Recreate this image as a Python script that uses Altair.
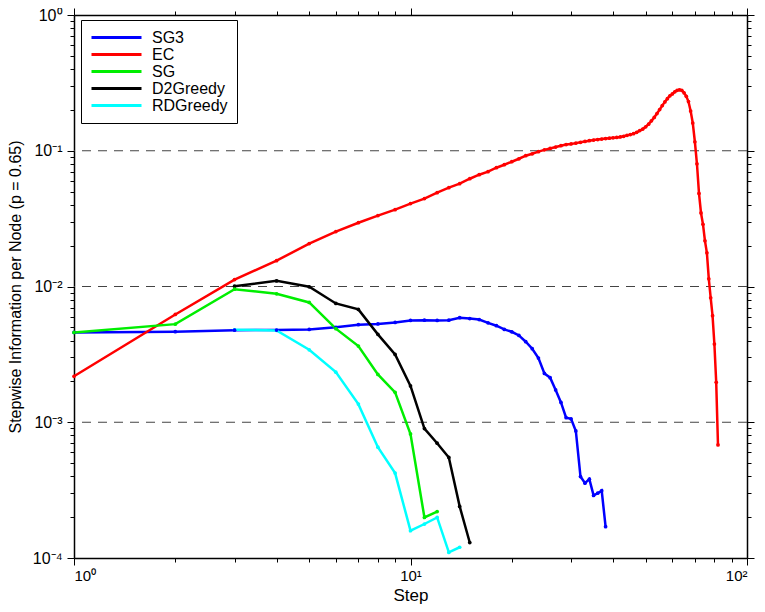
import altair as alt
import pandas as pd

series_names = ["SG3", "EC", "SG", "D2Greedy", "RDGreedy"]
series_colors = ["#0000ff", "#ff0000", "#00ee00", "#000000", "#00ffff"]

sg3_steps = list(range(1, 39))
sg3_values = [0.00459, 0.00465, 0.00477, 0.00478, 0.00483, 0.0050, 0.00523, 0.0053,
              0.00544, 0.00562, 0.00565, 0.00562, 0.00565, 0.00589, 0.0058, 0.00571,
              0.0054, 0.00514, 0.00483, 0.00464, 0.00436, 0.00392, 0.00348, 0.00297,
              0.00229, 0.00213, 0.00173, 0.0014, 0.00108, 0.00106, 0.000863, 0.000398,
              0.000356, 0.000381, 0.000289, 0.0003, 0.000313, 0.00017]

ec_steps = list(range(1, 83))
ec_values = [0.00218, 0.00622, 0.01125, 0.0155, 0.0207, 0.0254, 0.0295, 0.0333, 0.0368, 0.0408,
             0.0444, 0.0491, 0.0535, 0.0572, 0.0622, 0.0666, 0.0701, 0.075, 0.0789, 0.083,
             0.0873, 0.0919, 0.095, 0.0985, 0.1015, 0.104, 0.1065, 0.109, 0.111, 0.1122,
             0.1138, 0.1155, 0.117, 0.1185, 0.1198, 0.121, 0.122, 0.123, 0.1237, 0.1245,
             0.1253, 0.1263, 0.1278, 0.1298, 0.1315, 0.1337, 0.1367, 0.1408, 0.1444, 0.15,
             0.157, 0.166, 0.176, 0.188, 0.201, 0.215, 0.229, 0.242, 0.254, 0.262,
             0.2715, 0.2786, 0.281, 0.2786, 0.267, 0.252, 0.2305, 0.196, 0.16, 0.1165,
             0.0802, 0.0485, 0.0348, 0.0287, 0.0217, 0.0177, 0.0114, 0.00826, 0.00609, 0.00377,
             0.00197, 0.00068]

sg_steps = list(range(1, 13))
sg_values = [0.00459, 0.00528, 0.00955, 0.00884, 0.00763, 0.00489, 0.00364, 0.00225,
             0.00166, 0.00082, 0.000199, 0.00022]

d2_steps = list(range(3, 16))
d2_values = [0.01005, 0.011, 0.00995, 0.0075, 0.00678, 0.00444, 0.00316, 0.00185,
             0.000898, 0.000701, 0.00055, 0.00024, 0.00013]

rd_steps = list(range(3, 15))
rd_values = [0.0048, 0.00475, 0.00342, 0.00234, 0.00136, 0.000655, 0.000422, 0.000159,
             0.000178, 0.000199, 0.00011, 0.00012]

grid_values = [0.1, 0.01, 0.001]

rows = []
for name, steps, vals in [("SG3", sg3_steps, sg3_values), ("EC", ec_steps, ec_values),
                          ("SG", sg_steps, sg_values), ("D2Greedy", d2_steps, d2_values),
                          ("RDGreedy", rd_steps, rd_values)]:
    for i, (s, v) in enumerate(zip(steps, vals)):
        rows.append({"step": s, "value": v, "series": name, "order": i})
df = pd.DataFrame(rows)
grid_df = pd.DataFrame({"g": grid_values})

FONT = "Liberation Sans"
xscale = alt.Scale(type="log", domain=[1, 100], nice=False)
yscale = alt.Scale(type="log", domain=[0.0001, 1], nice=False)

E = "round(log(datum.value)/LN10)"
is_decade = f"abs(log(datum.value)/LN10 - {E}) < 0.001"
sup = (f"{E}==0?'⁰':{E}==1?'¹':{E}==2?'²':{E}==-1?'⁻¹':{E}==-2?'⁻²':"
       f"{E}==-3?'⁻³':{E}==-4?'⁻⁴':''")
label_expr = f"{is_decade} ? '10' + ({sup}) : ''"
tick_size = {"condition": {"test": is_decade, "value": 7}, "value": 4}

common_axis = dict(
    domainColor="black", domainWidth=1.5, tickColor="black", tickWidth=1,
    tickSize=tick_size, labelOverlap=False, grid=False, labelFont=FONT,
    labelColor="black", titleFont=FONT, titleColor="black", titleFontWeight="normal",
)

lines = alt.Chart(df).mark_line(
    strokeWidth=2.5,
    point=alt.OverlayMarkDef(filled=True, size=14),
).encode(
    x=alt.X("step:Q", scale=xscale,
            axis=alt.Axis(orient="bottom", title="Step", labelExpr=label_expr,
                          labelFontSize=15, titleFontSize=17, labelPadding=3,
                          titleY=42, titleBaseline="alphabetic", **common_axis)),
    y=alt.Y("value:Q", scale=yscale,
            axis=alt.Axis(orient="left", title="Stepwise Information per Node (p = 0.65)",
                          labelExpr=label_expr, labelFontSize=16, titleFontSize=16,
                          labelPadding=5, titlePadding=9, **common_axis)),
    color=alt.Color("series:N",
                    scale=alt.Scale(domain=series_names, range=series_colors),
                    legend=alt.Legend(
                        title=None, orient="none", legendX=7, legendY=5,
                        symbolType="stroke", symbolSize=2500, symbolStrokeWidth=3,
                        clipHeight=17, rowPadding=0, labelOffset=9,
                        labelFont=FONT, labelFontSize=16, labelColor="black",
                        strokeColor="black", fillColor="white", padding=9,
                        cornerRadius=0)),
    order=alt.Order("order:Q"),
)

mirror = alt.Chart(df).mark_point(opacity=0).encode(
    x=alt.X("step:Q", scale=xscale,
            axis=alt.Axis(orient="top", title=None, labels=False, **common_axis)),
    y=alt.Y("value:Q", scale=yscale,
            axis=alt.Axis(orient="right", title=None, labels=False, **common_axis)),
)

grid = alt.Chart(grid_df).mark_rule(color="#444444", strokeWidth=1.2,
                                     strokeDash=[9, 7]).encode(
    y=alt.Y("g:Q", scale=yscale, axis=None),
)

chart = alt.layer(grid, mirror, lines).resolve_axis(
    x="independent", y="independent"
).properties(
    width=673, height=543,
    autosize=alt.AutoSizeParams(type="none"),
    padding={"left": 66, "top": 7, "right": 10, "bottom": 46},
).configure_view(stroke="black", strokeWidth=1.5).configure(background="white")

chart.save("out.html", embed_options={"renderer": "svg", "actions": False})
